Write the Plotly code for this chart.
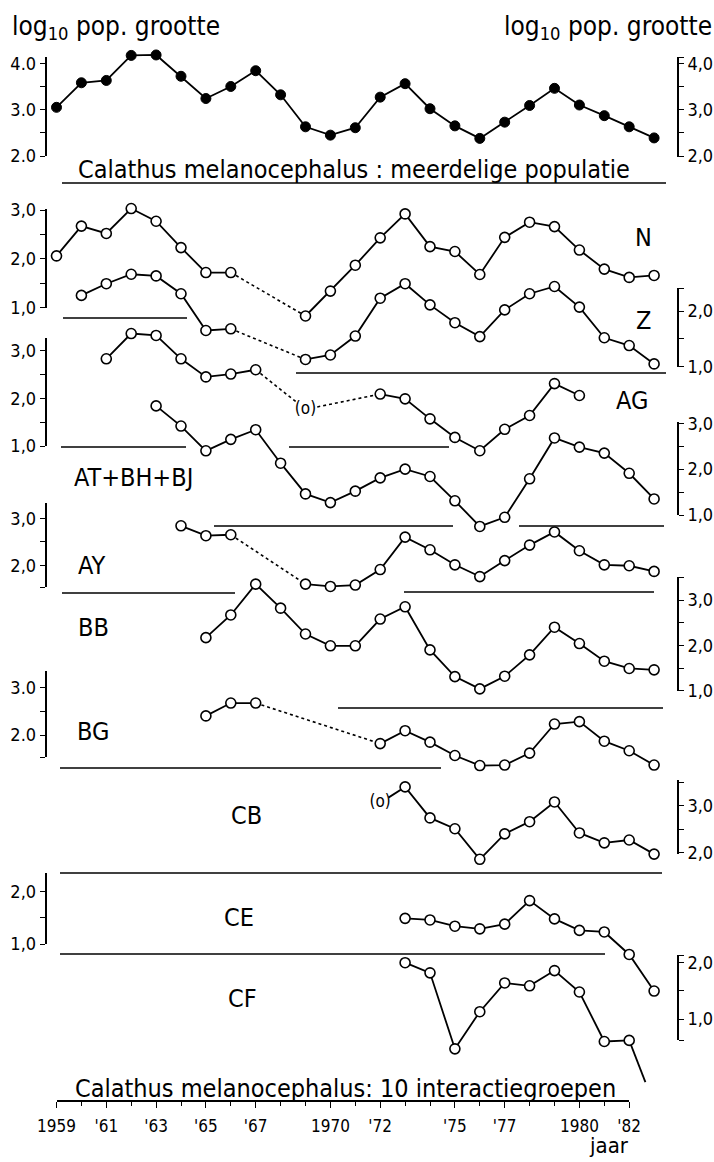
import plotly.graph_objects as go

W, H = 714, 1162

# ---------------- data: log10 population size per year ----------------
top_years = list(range(1959, 1984))
top_vals = [3.05, 3.58, 3.63, 4.17, 4.18, 3.72, 3.24, 3.50, 3.84, 3.32, 2.63, 2.45,
            2.61, 3.27, 3.56, 3.02, 2.65, 2.38, 2.73, 3.09, 3.46, 3.10, 2.87, 2.63, 2.39]

n_years = list(range(1959, 1984))
n_vals = [2.06, 2.67, 2.52, 3.03, 2.77, 2.23, 1.72, 1.72, None, None, 0.83, 1.34, 1.87,
          2.43, 2.92, 2.25, 2.15, 1.68, 2.44, 2.75, 2.66, 2.18, 1.79, 1.62, 1.66]

z_years = list(range(1960, 1984))
z_vals = [2.28, 2.49, 2.66, 2.63, 2.31, 1.65, 1.68, None, None, 1.13, 1.21, 1.55, 2.23,
          2.49, 2.11, 1.79, 1.54, 2.02, 2.31, 2.44, 2.07, 1.52, 1.38, 1.05]

ag_years = list(range(1961, 1981))
ag_vals = [2.83, 3.36, 3.32, 2.83, 2.45, 2.51, 2.60, None, 1.77, None, None, 2.09, 1.99,
           1.57, 1.18, 0.90, 1.35, 1.64, 2.31, 2.06]

at_years = list(range(1963, 1984))
at_vals = [3.38, 2.94, 2.40, 2.65, 2.86, 2.13, 1.46, 1.27, 1.52, 1.81, 2.00, 1.84, 1.31,
           0.75, 0.95, 1.79, 2.68, 2.48, 2.35, 1.91, 1.35]

ay_years = list(range(1964, 1984))
ay_vals = [2.84, 2.63, 2.65, None, None, 1.60, 1.55, 1.58, 1.91, 2.60, 2.33, 2.01, 1.76,
           2.10, 2.43, 2.71, 2.31, 2.01, 1.99, 1.87]

bb_years = list(range(1965, 1984))
bb_vals = [2.17, 2.67, 3.35, 2.82, 2.25, 1.99, 1.99, 2.58, 2.85, 1.90, 1.31, 1.04, 1.32,
           1.79, 2.40, 2.04, 1.65, 1.49, 1.46]

bg_years = list(range(1965, 1984))
bg_vals = [2.40, 2.67, 2.67, None, None, None, None, 1.82, 2.09, 1.85, 1.57, 1.36, 1.37,
           1.62, 2.23, 2.28, 1.87, 1.67, 1.37]

cb_years = list(range(1972, 1984))
cb_vals = [3.06, 3.40, 2.74, 2.51, 1.86, 2.40, 2.66, 3.08, 2.42, 2.21, 2.27, 1.97]

ce_years = list(range(1973, 1984))
ce_vals = [1.49, 1.46, 1.34, 1.29, 1.38, 1.83, 1.48, 1.26, 1.23, 0.80, 0.10]

cf_years = list(range(1973, 1983))
cf_vals = [2.00, 1.82, 0.47, 1.13, 1.64, 1.59, 1.86, 1.48, 0.60, 0.62]
cf_tail_years = [1982, 1982.65]
cf_tail_vals = [0.62, -0.12]

# uncertain estimates drawn as "(o)"
paren_years = {"AG": 1969, "CB": 1972}

series_labels = ["N", "Z", "AG", "AT+BH+BJ", "AY", "BB", "BG", "CB", "CE", "CF"]

x_tick_years = [1959, 1961, 1963, 1965, 1967, 1970, 1972, 1975, 1977, 1980, 1982]
x_tick_labels = ["1959", "'61", "'63", "'65", "'67", "1970", "'72", "'75", "'77", "1980", "'82"]
x_minor_years = list(range(1959, 1983))

# ---------------- layout geometry (pixels) ----------------
FONT = "DejaVu Sans Condensed, Liberation Sans Narrow, Arial Narrow, sans-serif"
PX_1959, PX_PER_YEAR = 56.5, 24.9
LEFT_X, RIGHT_X = 45.5, 678.0

panels = [
    dict(key="top", years=top_years, vals=top_vals, filled=True, cal=(4.0, 63.3, 2.0, 156.0),
         axes=[("left", 57, 156, "."), ("right", 57, 157, ",")]),
    dict(key="N", years=n_years, vals=n_vals, cal=(3.0, 210.0, 1.0, 307.7), axes=[("left", 209, 308, ",")]),
    dict(key="Z", years=z_years, vals=z_vals, cal=(2.0, 311.0, 1.0, 366.7), axes=[("right", 288, 367, ",")]),
    dict(key="AG", years=ag_years, vals=ag_vals, cal=(3.0, 350.7, 1.0, 446.0), axes=[("left", 338, 446, ",")]),
    dict(key="AT", years=at_years, vals=at_vals, cal=(3.0, 423.3, 1.0, 515.0), axes=[("right", 422, 515, ",")]),
    dict(key="AY", years=ay_years, vals=ay_vals, cal=(3.0, 518.3, 2.0, 565.3), axes=[("left", 503, 587, ",")]),
    dict(key="BB", years=bb_years, vals=bb_vals, cal=(3.0, 600.0, 1.0, 690.7), axes=[("right", 577, 691, ",")]),
    dict(key="BG", years=bg_years, vals=bg_vals, cal=(3.0, 687.3, 2.0, 735.0), axes=[("left", 671, 757, ".")]),
    dict(key="CB", years=cb_years, vals=cb_vals, cal=(3.0, 805.7, 2.0, 852.7), axes=[("right", 780, 854, ",")]),
    dict(key="CE", years=ce_years, vals=ce_vals, cal=(2.0, 891.7, 1.0, 944.0), axes=[("left", 873, 944, ",")]),
    dict(key="CF", years=cf_years, vals=cf_vals, cal=(2.0, 962.7, 1.0, 1019.0), axes=[("right", 955, 1040, ",")],
         tail=(cf_tail_years, cf_tail_vals)),
]

label_pos = [(643, 237), (643, 320), (632, 400), (133, 477), (91, 565), (93, 627),
             (93, 731), (246, 815), (239, 917), (242, 998)]

separators = [(183, 62, 666), (318, 63, 187), (373, 296, 666), (447, 61, 186), (447, 289, 449),
              (526, 214, 453), (526, 519, 664), (593, 62, 235), (592, 404, 654), (708, 338, 663),
              (768, 60, 441), (873, 60, 662), (954, 60, 605)]


def px_to_val(cal, px):
    va, pa, vb, pb = cal
    return va + (px - pa) * (vb - va) / (pb - pa)


def val_to_px(cal, v):
    va, pa, vb, pb = cal
    return pa + (v - va) * (pb - pa) / (vb - va)


def year_at(px):
    return 1959 + (px - PX_1959) / PX_PER_YEAR


fig = go.Figure()
layout = dict(
    width=W, height=H, margin=dict(l=0, r=0, t=0, b=0, pad=0), autosize=False,
    paper_bgcolor="white", plot_bgcolor="rgba(0,0,0,0)", showlegend=False,
    font=dict(family=FONT, color="black"),
    xaxis=dict(domain=[0, 1], range=[year_at(0), year_at(W)], visible=False, anchor="y",
               fixedrange=True, automargin=False),
    yaxis=dict(domain=[0, 1], range=[0, 1], visible=False, anchor="x", fixedrange=True, automargin=False),
)

LINE = dict(color="black", width=1.8)
idx = 2
for p in panels:
    cal = p["cal"]
    dax = idx
    idx += 1
    layout[f"yaxis{dax}"] = dict(overlaying="y", range=[px_to_val(cal, H), px_to_val(cal, 0)],
                                 visible=False, anchor="x", fixedrange=True, automargin=False)
    yref = f"y{dax}"
    yrs, vals = p["years"], p["vals"]
    # solid segments
    fig.add_trace(go.Scatter(x=yrs, y=vals, mode="lines", line=LINE, connectgaps=False,
                             xaxis="x", yaxis=yref, hoverinfo="skip"))
    # dotted bridges over missing years
    bx, by = [], []
    known = [i for i, v in enumerate(vals) if v is not None]
    for a, b in zip(known[:-1], known[1:]):
        if b > a + 1:
            bx += [yrs[a], yrs[b], None]
            by += [vals[a], vals[b], None]
    if bx:
        fig.add_trace(go.Scatter(x=bx, y=by, mode="lines", line=dict(color="black", width=1.6, dash="dot"),
                                 xaxis="x", yaxis=yref, hoverinfo="skip"))
    if "tail" in p:
        fig.add_trace(go.Scatter(x=p["tail"][0], y=p["tail"][1], mode="lines", line=LINE,
                                 xaxis="x", yaxis=yref, hoverinfo="skip"))
    # markers
    py = paren_years.get(p["key"])
    mx = [y for y, v in zip(yrs, vals) if v is not None and y != py]
    my = [v for y, v in zip(yrs, vals) if v is not None and y != py]
    if p.get("filled"):
        mk = dict(size=10, color="black", line=dict(color="black", width=1))
    else:
        mk = dict(size=10, color="white", line=dict(color="black", width=1.6))
    fig.add_trace(go.Scatter(x=mx, y=my, mode="markers", marker=mk, cliponaxis=False,
                             xaxis="x", yaxis=yref, hoverinfo="skip"))
    if py is not None:
        pv = vals[yrs.index(py)]
        fig.add_trace(go.Scatter(x=[py], y=[pv], mode="markers+text", text=["(o)"],
                                 textposition="middle center",
                                 textfont=dict(size=17, family=FONT, color="black"),
                                 marker=dict(size=20, color="white", line=dict(width=0)),
                                 xaxis="x", yaxis=yref, hoverinfo="skip"))
    # visible axis brackets
    for side, top, bot, sep in p["axes"]:
        k = idx
        idx += 1
        lo, hi = px_to_val(cal, bot), px_to_val(cal, top)
        ticks = [t / 2 for t in range(int(lo * 2) - 1, int(hi * 2) + 2) if lo - 0.03 <= t / 2 <= hi + 0.03]
        lo2, hi2 = min([lo] + ticks), max([hi] + ticks)
        caps = [lo2] + ([hi2] if side == "right" else [])
        tv = sorted(ticks + [c for c in caps if min(abs(c - t) for t in ticks) > 0.08])
        tt = [f"{v:.1f}".replace(".", sep) if abs(v - round(v)) < 1e-6 else "" for v in tv]
        layout[f"yaxis{k}"] = dict(
            domain=[1 - val_to_px(cal, lo2) / H, 1 - val_to_px(cal, hi2) / H], range=[lo2, hi2],
            anchor="free", position=(LEFT_X if side == "left" else RIGHT_X) / W, side=side,
            showline=True, linecolor="black", linewidth=1.6, ticks="outside", ticklen=5,
            tickwidth=1.4, tickcolor="black", tickmode="array", tickvals=tv, ticktext=tt,
            showgrid=False, zeroline=False, fixedrange=True, automargin=False,
            tickfont=dict(family=FONT, size=18, color="black"))
        fig.add_trace(go.Scatter(x=[None], y=[None], xaxis="x", yaxis=f"y{k}", hoverinfo="skip"))

# bottom year axis
layout["xaxis2"] = dict(
    domain=[PX_1959 / W, (PX_1959 + 23 * PX_PER_YEAR) / W], range=[1959, 1982],
    anchor="free", position=1 - 1101 / H, side="bottom", showline=True, linecolor="black",
    linewidth=1.6, ticks="outside", ticklen=6, tickwidth=1.4, tickcolor="black",
    tickmode="array", tickvals=x_tick_years, ticktext=x_tick_labels, showgrid=False,
    zeroline=False, fixedrange=True, automargin=False, ticklabelstandoff=4,
    tickfont=dict(family=FONT, size=17, color="black"),
    minor=dict(tickmode="array", tickvals=x_minor_years, ticks="outside", ticklen=4,
               tickwidth=1.3, tickcolor="black", showgrid=False))
fig.add_trace(go.Scatter(x=[None], y=[None], xaxis="x2", yaxis="y", hoverinfo="skip"))

# separators
shapes = []
for y, x0, x1 in separators:
    shapes.append(dict(type="line", xref="paper", yref="paper", x0=x0 / W, x1=x1 / W,
                       y0=1 - y / H, y1=1 - y / H, line=dict(color="black", width=1.6)))
layout["shapes"] = shapes

ann = []
for txt, (x, y) in zip(series_labels, label_pos):
    ann.append(dict(text=txt, x=x / W, y=1 - y / H, xref="paper", yref="paper", showarrow=False,
                    xanchor="center", yanchor="middle", font=dict(family=FONT, size=25, color="black")))
ann.append(dict(text="log<sub>10</sub> pop. grootte", x=116 / W, y=1 - 28 / H, xref="paper", yref="paper",
                showarrow=False, xanchor="center", yanchor="middle", font=dict(family=FONT, size=26)))
ann.append(dict(text="log<sub>10</sub> pop. grootte", x=608 / W, y=1 - 28 / H, xref="paper", yref="paper",
                showarrow=False, xanchor="center", yanchor="middle", font=dict(family=FONT, size=26)))
ann.append(dict(text="Calathus melanocephalus : meerdelige populatie", x=354 / W, y=1 - 169 / H,
                xref="paper", yref="paper", showarrow=False, xanchor="center", yanchor="middle",
                font=dict(family=FONT, size=25)))
ann.append(dict(text="Calathus melanocephalus: 10 interactiegroepen", x=345 / W, y=1 - 1088 / H,
                xref="paper", yref="paper", showarrow=False, xanchor="center", yanchor="middle",
                font=dict(family=FONT, size=25)))
ann.append(dict(text="jaar", x=609 / W, y=1 - 1160 / H, xref="paper", yref="paper", showarrow=False,
                xanchor="center", yanchor="bottom", font=dict(family=FONT, size=22)))
layout["annotations"] = ann

fig.update_layout(**layout)
fig.write_html("out.html")
